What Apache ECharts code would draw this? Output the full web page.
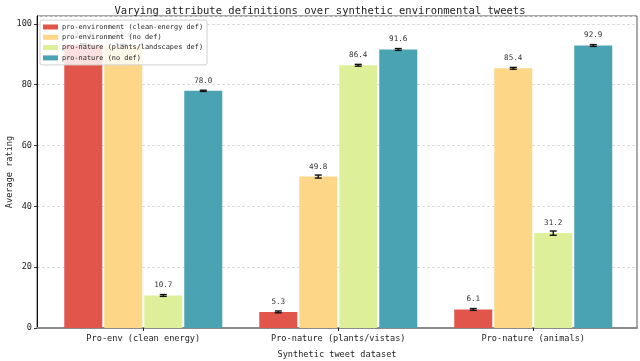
<!DOCTYPE html>
<html>
<head>
<meta charset="utf-8">
<script src="https://cdn.jsdelivr.net/npm/echarts@6/dist/echarts.min.js"></script>
<style>
  html, body { margin: 0; padding: 0; background: #fff; }
  #chart { width: 640px; height: 361px; }
</style>
</head>
<body>
<div id="chart"></div>
<script>
// Average ratings per synthetic tweet dataset, one series per attribute definition
const categories = ['Pro-env (clean energy)', 'Pro-nature (plants/vistas)', 'Pro-nature (animals)'];
const seriesNames = [
  'pro-environment (clean-energy def)',
  'pro-environment (no def)',
  'pro-nature (plants/landscapes def)',
  'pro-nature (no def)'
];
const envCleanDef = [93.2, 5.3, 6.1];
const envNoDef = [93.0, 49.8, 85.4];
const natPlantsDef = [10.7, 86.4, 31.2];
const natNoDef = [78.0, 91.6, 92.9];
// standard errors
const envCleanErr = [0.3, 0.3, 0.3];
const envNoErr = [0.3, 0.5, 0.3];
const natPlantsErr = [0.3, 0.3, 0.7];
const natNoErr = [0.2, 0.3, 0.3];
const yTicks = [0, 20, 40, 60, 80, 100];

const values = [envCleanDef, envNoDef, natPlantsDef, natNoDef];
const errors = [envCleanErr, envNoErr, natPlantsErr, natNoErr];
const colors = ['#e2554a', '#fdd687', '#ddf099', '#4aa3b2'];
const mono = 'DejaVu Sans Mono';

const BAR_W = 38;
const STEP = 40;

const barSeries = values.map((vals, i) => ({
  name: seriesNames[i],
  type: 'bar',
  barWidth: BAR_W,
  barGap: (2 / BAR_W * 100).toFixed(2) + '%',
  itemStyle: { color: colors[i] },
  z: 2,
  label: {
    show: true,
    position: 'top',
    distance: 6,
    fontFamily: mono,
    fontSize: 7.6,
    color: '#333',
    formatter: (p) => p.value[1].toFixed(1)
  },
  data: vals.map((v, k) => [k, v])
}));

const errSeries = values.map((vals, i) => ({
  name: 'err-' + i,
  type: 'custom',
  z: 3,
  silent: true,
  renderItem: (params, api) => {
    const x = api.value(0);
    const lo = api.coord([x, api.value(1)]);
    const hi = api.coord([x, api.value(2)]);
    const cx = lo[0] + (i - 1.5) * STEP;
    const hw = 3.5;
    const st = { stroke: '#111', lineWidth: 1.4 };
    return {
      type: 'group',
      children: [
        { type: 'line', shape: { x1: cx, y1: lo[1], x2: cx, y2: hi[1] }, style: st },
        { type: 'line', shape: { x1: cx - hw, y1: lo[1], x2: cx + hw, y2: lo[1] }, style: st },
        { type: 'line', shape: { x1: cx - hw, y1: hi[1], x2: cx + hw, y2: hi[1] }, style: st }
      ]
    };
  },
  data: vals.map((v, k) => [k, v - errors[i][k], v + errors[i][k]])
}));

const chart = echarts.init(document.getElementById('chart'), null, { renderer: 'canvas' });
chart.setOption({
  animation: false,
  backgroundColor: '#fff',
  textStyle: { fontFamily: mono },
  title: {
    text: 'Varying attribute definitions over synthetic environmental tweets',
    left: 'center',
    top: 1,
    textStyle: { fontFamily: mono, fontSize: 10.5, fontWeight: 'normal', color: '#222' }
  },
  legend: {
    data: seriesNames,
    orient: 'vertical',
    left: 40,
    top: 20,
    z: 10,
    icon: 'rect',
    itemWidth: 15,
    itemHeight: 5,
    itemGap: 2.3,
    padding: [3, 4, 3, 3],
    backgroundColor: 'rgba(255,255,255,0.82)',
    borderColor: '#d0d0d0',
    borderWidth: 1,
    borderRadius: 2,
    textStyle: { fontFamily: mono, fontSize: 6.9, color: '#222', lineHeight: 8, padding: [0, 0, 0, -1] }
  },
  grid: {
    left: 37, right: 3, top: 16, bottom: 33,
    containLabel: false,
    outerBoundsMode: 'none',
    show: true,
    borderColor: '#555',
    borderWidth: 1
  },
  xAxis: {
    type: 'value',
    min: -0.545,
    max: 2.532,
    name: 'Synthetic tweet dataset',
    nameLocation: 'middle',
    nameGap: 22,
    nameMoveOverlap: false,
    nameTextStyle: { fontFamily: mono, fontSize: 8.6, color: '#222' },
    axisLine: { show: true, onZero: false, lineStyle: { color: '#8a8a8a', width: 2 } },
    axisTick: { show: true, customValues: [0, 1, 2], length: 3, lineStyle: { color: '#222' } },
    axisLabel: {
      customValues: [0, 1, 2],
      formatter: (v) => categories[Math.round(v)],
      fontFamily: mono, fontSize: 8.6, color: '#222', margin: 6
    },
    splitLine: { show: false }
  },
  yAxis: {
    type: 'value',
    min: 0,
    max: 102.6,
    interval: 20,
    name: 'Average rating',
    nameLocation: 'middle',
    nameGap: 23,
    nameMoveOverlap: false,
    nameTextStyle: { fontFamily: mono, fontSize: 8.6, color: '#222' },
    axisLine: { show: true, onZero: false, lineStyle: { color: '#111', width: 1 } },
    axisTick: { show: true, length: 3, lineStyle: { color: '#333' } },
    axisLabel: {
      showMaxLabel: false,
      fontFamily: mono, fontSize: 8.6, color: '#222', margin: 5,
      formatter: (v) => (yTicks.includes(v) ? String(v) : '')
    },
    splitLine: { show: true, lineStyle: { color: '#dcdcdc', type: [3, 2], width: 1 } }
  },
  series: barSeries.concat(errSeries)
});
</script>
</body>
</html>
